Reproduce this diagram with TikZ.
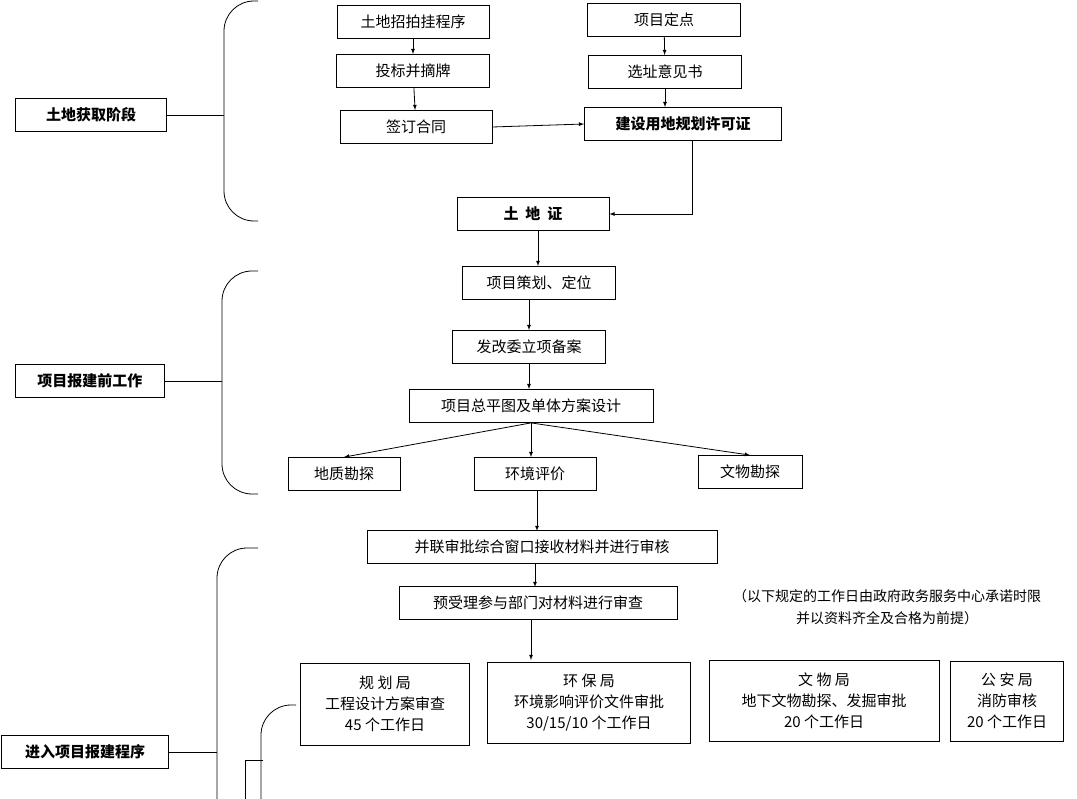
\documentclass[tikz,border=0pt]{standalone}
\usepackage{fontspec}
\setmainfont{Noto Sans CJK SC}
\tikzset{
  box/.style={draw, thick, minimum height=33pt, inner sep=2pt, font=\fontsize{15}{18}\selectfont},
  bbox/.style={box, font=\fontsize{15}{18}\selectfont\bfseries},
  tbox/.style={draw, thick, align=center, font=\fontsize{15}{21}\selectfont},
  flow/.style={->, >=latex, thick},
  brace/.style={thick, rounded corners=30pt}
}
\begin{document}
\begin{tikzpicture}[x=1pt,y=-1pt]
\useasboundingbox (0,0) rectangle (1077,799);
% land acquisition stage
\node[box, minimum width=152pt] (zpg) at (413,22) {土地招拍挂程序};
\node[box, minimum width=153pt] (tb) at (413,71) {投标并摘牌};
\node[box, minimum width=152pt] (qd) at (416,127) {签订合同};
\node[box, minimum width=153pt] (dd) at (664,20) {项目定点};
\node[box, minimum width=153pt] (xz) at (665,72) {选址意见书};
\node[bbox, minimum width=197pt] (xk) at (683,124) {建设用地规划许可证};
\node[bbox, minimum width=152pt] (td) at (533,214) {土\ \ 地\ \ 证};
% pre-construction work
\node[box, minimum width=153pt] (ch) at (539,283) {项目策划、定位};
\node[box, minimum width=153pt] (fg) at (529,347) {发改委立项备案};
\node[box, minimum width=244pt] (zp) at (531,406) {项目总平图及单体方案设计};
\node[box, minimum width=112pt] (dz) at (344,474) {地质勘探};
\node[box, minimum width=122pt] (hj) at (535,474) {环境评价};
\node[box, minimum width=104pt] (ww) at (750,472) {文物勘探};
% approval procedure
\node[box, minimum width=350pt] (bl) at (542,547) {并联审批综合窗口接收材料并进行审核};
\node[box, minimum width=278pt] (ysl) at (538,603) {预受理参与部门对材料进行审查};
\node[font=\fontsize{14}{22}\selectfont, align=center] (note) at (887,607) {（以下规定的工作日由政府政务服务中心承诺时限\\并以资料齐全及合格为前提）};
\coordinate (ysl-end) at (531,660);
\node[tbox, minimum width=169pt, minimum height=82pt] (gh) at (385,704) {规\ 划\ 局\\工程设计方案审查\\45 个工作日};
\node[tbox, minimum width=203pt, minimum height=81pt] (hb) at (589,703) {环\ 保\ 局\\环境影响评价文件审批\\30/15/10 个工作日};
\node[tbox, minimum width=230pt, minimum height=81pt] (wwj) at (824,701) {文\ 物\ 局\\地下文物勘探、发掘审批\\20 个工作日};
\node[tbox, minimum width=113pt, minimum height=80pt] (ga) at (1007,701) {公\ 安\ 局\\消防审核\\20 个工作日};
% stage labels
\node[bbox, minimum width=151pt] (s1) at (91,115) {土地获取阶段};
\node[bbox, minimum width=149pt] (s2) at (90,381) {项目报建前工作};
\node[bbox, minimum width=167pt] (s3) at (85,752) {进入项目报建程序};
% braces
\draw[brace] (258,1) -- (224,1) -- (224,221) -- (258,221);
\draw[thick] (s1.east) -- (224,115);
\draw[brace] (258,271) -- (222,271) -- (222,494) -- (258,494);
\draw[thick] (s2.east) -- (222,381);
\draw[brace] (258,548) -- (217,548) -- (217,799);
\draw[thick] (s3.east) -- (217,752);
\draw[brace] (296,705) -- (261,705) -- (261,799);
\draw[thick] (263,760) -- (245,760) -- (245,799);
% arrows
\draw[flow] (zpg) -- (tb);
\draw[flow] (tb) -- (qd);
\draw[flow] (qd.east) -- (xk.west);
\draw[flow] (dd) -- (xz);
\draw[flow] (xz) -- (xz |- xk.north);
\draw[flow] (xk.south -| 692,0) |- (td.east);
\draw[flow] (td.south -| 538,0) -- (538,266);
\draw[flow] (ch.south -| fg) -- (fg);
\draw[flow] (fg) -- (fg |- zp.north);
\draw[flow] (zp.south) -- (dz.north);
\draw[flow] (zp.south) -- (hj.north -| zp.south);
\draw[flow] (zp.south) -- (ww.north);
\draw[flow] (hj.south -| 537,0) -- (537,531);
\draw[flow] (bl.south -| 535,0) -- (535,587);
\draw[flow] (ysl.south -| ysl-end) -- (ysl-end);
\end{tikzpicture}
\end{document}
